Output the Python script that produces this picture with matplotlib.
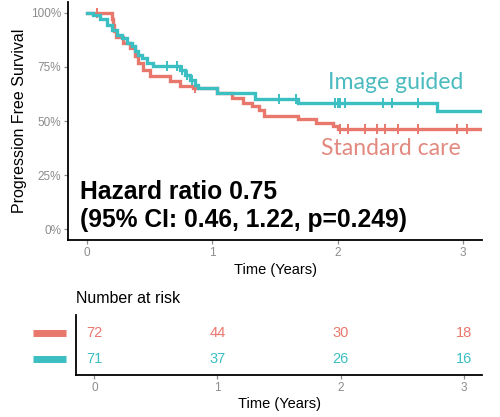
import matplotlib
matplotlib.use("Agg")
import matplotlib.pyplot as plt
import numpy as np

plt.rcParams['font.family'] = ['Liberation Sans', 'DejaVu Sans']

# Kaplan-Meier steps (years, survival)
std_t = [0, 0.20, 0.21, 0.22, 0.23, 0.29, 0.345, 0.385, 0.41, 0.45, 0.50, 0.66,
         0.74, 0.85, 1.04, 1.16, 1.245, 1.32, 1.37, 1.41, 1.68, 1.83, 1.96, 2.0]
std_s = [1.0, 0.97, 0.944, 0.917, 0.89, 0.86, 0.837, 0.799, 0.768, 0.737, 0.706,
         0.683, 0.664, 0.653, 0.63, 0.608, 0.584, 0.568, 0.553, 0.525, 0.508,
         0.493, 0.475, 0.461]
std_cens = [0.08, 0.86, 2.02, 2.08, 2.22, 2.31, 2.38, 2.48, 2.64, 2.95, 3.03]

img_t = [0, 0.05, 0.106, 0.16, 0.20, 0.24, 0.28, 0.32, 0.36, 0.385, 0.41, 0.44,
         0.48, 0.53, 0.74, 0.78, 0.82, 0.86, 0.89, 1.04, 1.34, 1.68, 2.79]
img_s = [1.0, 0.99, 0.97, 0.945, 0.922, 0.90, 0.883, 0.86, 0.845, 0.822, 0.806,
         0.791, 0.768, 0.753, 0.737, 0.714, 0.691, 0.668, 0.653, 0.63, 0.60,
         0.584, 0.545]
img_cens = [0.64, 0.72, 0.76, 0.80, 0.84, 1.53, 1.67, 1.98, 2.00, 2.02, 2.06,
            2.36, 2.43, 2.64]
t_end = 3.14

risk_times = [0, 1, 2, 3]
std_risk = [72, 44, 30, 18]
img_risk = [71, 37, 26, 16]

red = '#E8776C'
teal = '#3BBFC2'
grey = '#8c8c8c'


def km(ax, t, s, cens, color):
    tt = list(t) + [t_end]
    ss = list(s) + [s[-1]]
    ax.step(tt, ss, where='post', color=color, lw=2.4, solid_joinstyle='miter')
    idx = np.searchsorted(t, cens, side='right') - 1
    cy = np.array(s)[idx]
    ax.plot(cens, cy, ls='none', marker='|', ms=7, mew=1.4, color=color)


fig = plt.figure(figsize=(5, 4.17), dpi=100)
fig.patch.set_facecolor('white')

ax = fig.add_axes([0.136, 0.4245, 0.828, 0.5705])
km(ax, std_t, std_s, std_cens, red)
km(ax, img_t, img_s, img_cens, teal)
ax.set_xlim(-0.15, 3.15)
ax.set_ylim(-0.05, 1.05)
ax.set_xticks([0, 1, 2, 3])
ax.set_yticks([0, 0.25, 0.5, 0.75, 1.0])
ax.set_yticklabels(['0%', '25%', '50%', '75%', '100%'])
for sp in ['top', 'right']:
    ax.spines[sp].set_visible(False)
for sp in ['left', 'bottom']:
    ax.spines[sp].set_linewidth(1.3)
ax.tick_params(colors=grey, labelsize=8.5, length=3, width=0.9, pad=2)
ax.set_ylabel('Progression Free Survival', fontsize=11.5, labelpad=3)
ax.set_xlabel('Time (Years)', fontsize=10.5, labelpad=3)

ax.text(0.628, 0.66, 'Image guided', transform=ax.transAxes, color='#4BBBC0',
        fontsize=16.6, family=['Lato', 'DejaVu Sans'], va='center')
ax.text(0.61, 0.385, 'Standard care', transform=ax.transAxes, color='#E38A80',
        fontsize=16.6, family=['Lato', 'DejaVu Sans'], va='center')
ax.text(0.028, 0.20, 'Hazard ratio 0.75', transform=ax.transAxes,
        fontsize=17.7, fontweight='bold', va='center')
ax.text(0.028, 0.085, '(95% CI: 0.46, 1.22, p=0.249)', transform=ax.transAxes,
        fontsize=17.7, fontweight='bold', va='center')

# number at risk table
at = fig.add_axes([0.152, 0.1007, 0.812, 0.1439])
at.set_xlim(-0.15, 3.15)
at.set_ylim(-0.6, 1.7)
for x, n in zip(risk_times, std_risk):
    at.text(x, 1, str(n), color=red, fontsize=10.5, ha='center', va='center')
for x, n in zip(risk_times, img_risk):
    at.text(x, 0, str(n), color=teal, fontsize=10.5, ha='center', va='center')
at.set_xticks(risk_times)
at.set_yticks([])
for sp in ['top', 'right']:
    at.spines[sp].set_visible(False)
for sp in ['left', 'bottom']:
    at.spines[sp].set_linewidth(1.3)
at.tick_params(colors=grey, labelsize=8.5, length=3, width=0.9, pad=2)
at.set_xlabel('Time (Years)', fontsize=10.5, labelpad=2)
at.set_title('Number at risk', loc='left', fontsize=11.5, pad=9, x=0.0)

# coloured legend strips left of the table
for yy, c in [(1, red), (0, teal)]:
    at.plot([-0.50, -0.23], [yy, yy], color=c, lw=5, clip_on=False,
            solid_capstyle='butt')

fig.savefig('out.png', dpi=100, facecolor='white')
